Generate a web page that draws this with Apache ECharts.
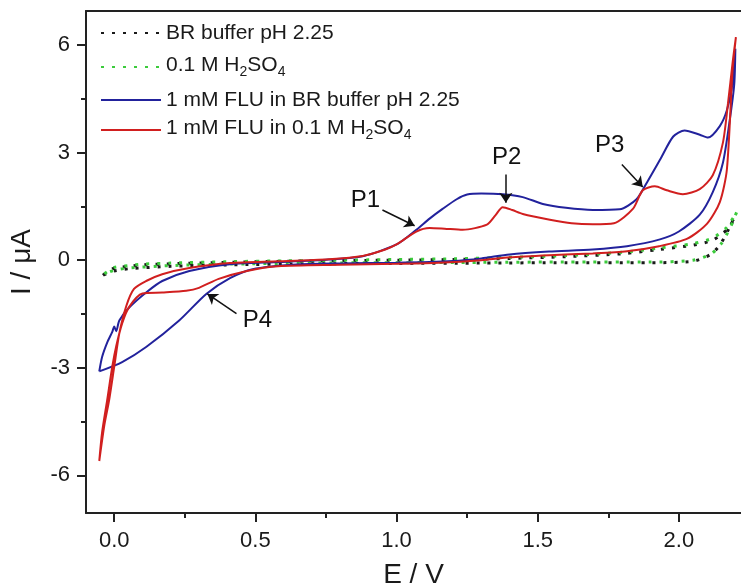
<!DOCTYPE html>
<html>
<head>
    <meta charset="UTF-8">
    <title>CV FLU</title>
    <script src="https://cdn.jsdelivr.net/npm/echarts@6/dist/echarts.min.js"></script>
</head>
<body style="margin:0">
    <div id="main"></div>
</body>
<style type="text/css">
    #main{height: 588px;width: 741px;}
</style>
<script type="text/javascript">
// data, [E (V), I (uA)], each loop in scan order
var brBuffer = [
    [-0.04,-0.42],[-0.02,-0.3],[0.0,-0.22],[0.05,-0.17],[0.1,-0.13],[0.2,-0.1],[0.4,-0.06],[0.6,-0.03],
    [0.8,-0.01],[1.0,0.0],[1.2,0.02],[1.4,0.05],[1.6,0.1],[1.8,0.18],[1.93,0.3],[2.05,0.42],[2.12,0.56],
    [2.17,0.85],[2.2,1.2],
    [2.19,1.1],[2.175,0.85],[2.145,0.42],[2.11,0.15],[2.05,-0.03],[1.9,-0.07],[1.6,-0.07],[1.3,-0.08],
    [1.0,-0.09],[0.7,-0.1],[0.4,-0.13],[0.2,-0.17],[0.05,-0.24],[0.0,-0.3],[-0.04,-0.42]
];
var h2so4 = [
    [-0.035,-0.38],[-0.015,-0.27],[0.0,-0.2],[0.05,-0.15],[0.1,-0.11],[0.2,-0.08],[0.4,-0.04],[0.6,-0.02],
    [0.8,0.0],[1.0,0.02],[1.2,0.04],[1.4,0.08],[1.6,0.13],[1.8,0.22],[1.93,0.34],[2.05,0.46],[2.12,0.62],
    [2.17,0.92],[2.205,1.35],
    [2.195,1.15],[2.18,0.88],[2.15,0.46],[2.115,0.18],[2.05,0.0],[1.9,-0.05],[1.6,-0.05],[1.3,-0.06],
    [1.0,-0.07],[0.7,-0.08],[0.4,-0.11],[0.2,-0.15],[0.05,-0.22],[0.0,-0.28],[-0.035,-0.38]
];
var fluBR = [
    [-0.053,-3.1],[-0.043,-2.7],[-0.025,-2.3],[-0.007,-2.0],[0.0,-1.85],[0.007,-1.98],[0.018,-1.68],
    [0.053,-1.32],[0.113,-0.9],[0.17,-0.58],[0.266,-0.3],[0.41,-0.11],[0.585,-0.05],[0.76,0.02],
    [0.88,0.11],[1.0,0.44],[1.07,0.85],[1.117,1.16],[1.163,1.43],[1.213,1.7],[1.25,1.83],[1.3,1.86],
    [1.376,1.84],[1.447,1.76],[1.518,1.57],[1.6,1.46],[1.695,1.4],[1.79,1.42],[1.85,1.7],[1.887,2.17],
    [1.933,2.8],[1.98,3.45],[2.02,3.62],[2.074,3.5],[2.103,3.42],[2.145,3.74],[2.17,4.18],[2.188,4.84],
    [2.2,5.9],
    [2.196,4.9],[2.18,3.9],[2.156,2.72],[2.12,1.9],[2.074,1.27],[2.0,0.8],[1.933,0.58],[1.816,0.39],
    [1.695,0.3],[1.54,0.24],[1.4,0.16],[1.3,0.05],[1.2,-0.02],[1.0,-0.07],[0.8,-0.09],[0.645,-0.12],
    [0.49,-0.25],[0.41,-0.5],[0.326,-0.94],[0.23,-1.68],[0.113,-2.42],[0.028,-2.84],[-0.053,-3.1]
];
var fluH2so4 = [
    [-0.053,-5.6],[-0.035,-4.6],[-0.018,-3.9],[0.0,-2.97],[0.018,-2.04],[0.043,-1.27],[0.07,-0.8],
    [0.113,-0.58],[0.17,-0.39],[0.266,-0.22],[0.41,-0.08],[0.585,-0.03],[0.76,0.03],[0.88,0.12],
    [0.96,0.3],[1.0,0.44],[1.07,0.8],[1.117,0.9],[1.17,0.88],[1.234,0.85],[1.32,0.99],[1.35,1.25],
    [1.376,1.48],[1.41,1.4],[1.447,1.29],[1.543,1.13],[1.62,1.03],[1.695,1.0],[1.77,1.03],[1.837,1.43],
    [1.872,1.95],[1.915,2.06],[1.957,1.95],[2.014,1.84],[2.074,1.98],[2.12,2.37],[2.156,3.28],
    [2.174,4.38],[2.191,5.56],[2.202,6.22],
    [2.19,5.28],[2.17,2.53],[2.145,1.62],[2.1,1.02],[2.03,0.6],[1.93,0.39],[1.816,0.25],[1.695,0.19],
    [1.54,0.14],[1.4,0.08],[1.3,0.0],[1.15,-0.07],[1.0,-0.1],[0.8,-0.13],[0.58,-0.17],[0.47,-0.3],
    [0.37,-0.52],[0.3,-0.77],[0.255,-0.85],[0.17,-0.9],[0.1,-0.93],[0.053,-1.3],[0.028,-1.76],
    [0.007,-2.4],[-0.007,-2.97],[-0.025,-3.9],[-0.043,-4.8],[-0.053,-5.6]
];

var seriesNames = ['BR buffer pH 2.25', '0.1 M H2SO4', '1 mM FLU in BR buffer pH 2.25', '1 mM FLU in 0.1 M H2SO4'];
var xMajor = [0, 0.5, 1.0, 1.5, 2.0];
var xMinor = [0.25, 0.75, 1.25, 1.75];
var yMajor = [-6, -3, 0, 3, 6];
var yMinor = [-4.5, -1.5, 1.5, 4.5];

// peak labels and arrows (data units)
var peakNames = ['P1', 'P2', 'P3', 'P4'];
var peakLabelAt = [[0.89, 1.68], [1.39, 2.86], [1.755, 3.19], [0.507, -1.68]];
var arrowFrom = [[0.95, 1.4], [1.387, 2.39], [1.798, 2.67], [0.433, -1.49]];
var arrowTo = [[1.064, 0.96], [1.387, 1.6], [1.872, 2.04], [0.33, -0.94]];

var FONT = 'Liberation Sans, Arial, sans-serif';
var chart = echarts.init(document.getElementById('main'));

// main text top-aligned, subscripts pushed to the bottom of the line box
function subFmt(name) {
    if (name.indexOf('H2SO4') < 0) return name;
    var parts = name.split('H2SO4');
    return '{m|' + parts[0] + 'H}{sub|2}{m|SO}{sub|4}';
}
var legendText = {
    fontFamily: FONT, fontSize: 21, color: '#1a1a1a', lineHeight: 24,
    rich: {
        m: { fontFamily: FONT, fontSize: 21, lineHeight: 24, verticalAlign: 'top', color: '#1a1a1a' },
        sub: { fontFamily: FONT, fontSize: 14, lineHeight: 14, padding: [18, 0, 0, 0], verticalAlign: 'bottom', color: '#1a1a1a' }
    }
};
var legendTops = [21, 47, 88, 110];
var legends = seriesNames.map(function (n, i) {
    return {
        data: [n], left: 100, top: legendTops[i], orient: 'vertical', padding: 0,
        itemWidth: 60, itemHeight: 10, selectedMode: false,
        itemStyle: { opacity: 0 },
        formatter: subFmt, textStyle: legendText
    };
});

var colors = ['#1a1a1a', '#3ccb3c', '#22229c', '#d11f1f'];
var curves = [brBuffer, h2so4, fluBR, fluH2so4];

var series = curves.map(function (c, i) {
    var dotted = i < 2;
    return {
        name: seriesNames[i], type: 'line', data: c, showSymbol: false, symbol: 'none',
        smooth: 0.25, silent: true, z: 2 + i,
        color: colors[i],
        lineStyle: { color: colors[i], width: dotted ? 3 : 2, type: dotted ? [3, 8] : 'solid', cap: 'butt' }
    };
});

// annotations on the last series
series[3].markLine = {
    silent: true, symbol: ['none', 'arrow'], symbolSize: 10, animation: false,
    label: { show: false },
    lineStyle: { color: '#111', width: 1.5, type: 'solid' },
    data: arrowFrom.map(function (p, i) { return [{ coord: p }, { coord: arrowTo[i] }]; })
};
series[3].markPoint = {
    silent: true, symbol: 'circle', symbolSize: 0, animation: false,
    label: { show: true, position: 'inside', formatter: '{b}', fontFamily: FONT, fontSize: 24, color: '#111' },
    data: peakNames.map(function (n, i) { return { name: n, coord: peakLabelAt[i] }; })
};

var axisLineStyle = { color: '#222', width: 2 };
var option = {
    animation: false,
    backgroundColor: '#fff',
    grid: { left: 86, top: 11, right: 0, bottom: 75, outerBoundsMode: 'none', containLabel: false },
    legend: legends,
    xAxis: [
        {
            type: 'value', min: -0.1, max: 2.22, position: 'bottom',
            name: 'E / V', nameLocation: 'middle', nameGap: 48,
            nameTextStyle: { fontFamily: FONT, fontSize: 28, color: '#1a1a1a' },
            axisLine: { onZero: false, lineStyle: axisLineStyle },
            axisTick: { customValues: xMajor, length: 9, lineStyle: { color: '#222', width: 2 } },
            axisLabel: { customValues: xMajor, formatter: function (v) { return v.toFixed(1); }, fontFamily: FONT, fontSize: 22, color: '#1a1a1a', margin: 17 },
            splitLine: { show: false }
        },
        {
            type: 'value', min: -0.1, max: 2.22, position: 'bottom',
            axisLine: { show: false, onZero: false },
            axisTick: { customValues: xMinor, length: 5, lineStyle: { color: '#222', width: 2 } },
            axisLabel: { show: false }, splitLine: { show: false }
        },
        {
            type: 'value', min: -0.1, max: 2.22, position: 'top',
            axisLine: { onZero: false, lineStyle: axisLineStyle },
            axisTick: { show: false }, axisLabel: { show: false }, splitLine: { show: false }
        }
    ],
    yAxis: [
        {
            type: 'value', min: -7.05, max: 6.95, position: 'left',
            name: 'I / \u03bcA', nameLocation: 'middle', nameGap: 50,
            nameTextStyle: { fontFamily: FONT, fontSize: 28, color: '#1a1a1a' },
            axisLine: { onZero: false, lineStyle: axisLineStyle },
            axisTick: { customValues: yMajor, length: 9, lineStyle: { color: '#222', width: 2 } },
            axisLabel: { customValues: yMajor, fontFamily: FONT, fontSize: 22, color: '#1a1a1a', margin: 16 },
            splitLine: { show: false }
        },
        {
            type: 'value', min: -7.05, max: 6.95, position: 'left',
            axisLine: { show: false, onZero: false },
            axisTick: { customValues: yMinor, length: 5, lineStyle: { color: '#222', width: 2 } },
            axisLabel: { show: false }, splitLine: { show: false }
        }
    ],
    series: series
};
chart.setOption(option);
</script>
</html>
